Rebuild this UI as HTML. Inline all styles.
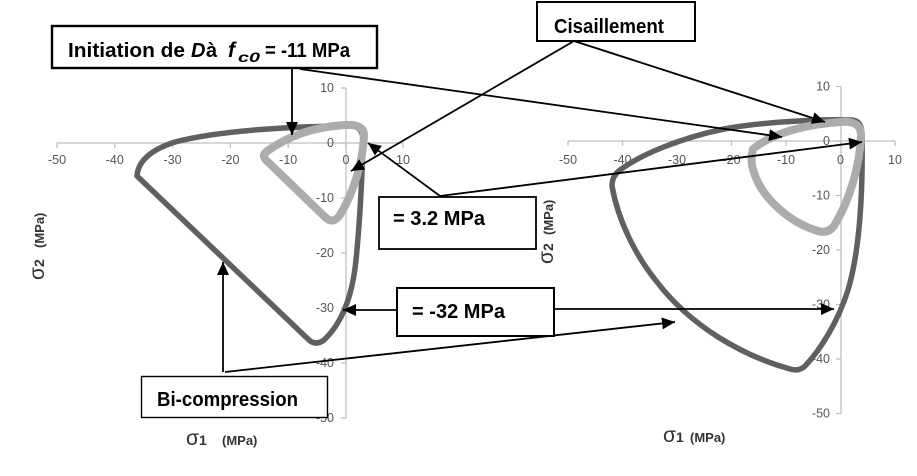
<!DOCTYPE html>
<html>
<head>
<meta charset="utf-8">
<style>
  html,body{margin:0;padding:0;background:#fff;}
  svg{display:block;}
  .tk{font-family:"Liberation Sans",sans-serif;font-size:12.5px;fill:#555;}
  .bx{font-family:"Liberation Sans",sans-serif;font-size:20px;font-weight:bold;fill:#000;}
  .ax{font-family:"Liberation Sans",sans-serif;font-weight:bold;fill:#333;}
</style>
</head>
<body>
<svg width="917" height="476" viewBox="0 0 917 476" xmlns="http://www.w3.org/2000/svg">
  <defs>
    <marker id="ah" markerUnits="userSpaceOnUse" markerWidth="14" markerHeight="12" refX="13" refY="6" orient="auto">
      <path d="M0,0 L13,6 L0,12 z" fill="#000"/>
    </marker>
  </defs>
  <rect width="917" height="476" fill="#fff"/>

  <!-- LEFT AXES -->
  <g stroke="#bfbfbf" stroke-width="1.3">
    <line x1="57" y1="143" x2="403" y2="143"/>
    <line x1="57" y1="143" x2="57" y2="148"/>
    <line x1="114.8" y1="143" x2="114.8" y2="148"/>
    <line x1="172.6" y1="143" x2="172.6" y2="148"/>
    <line x1="230.4" y1="143" x2="230.4" y2="148"/>
    <line x1="288.2" y1="143" x2="288.2" y2="148"/>
    <line x1="346" y1="143" x2="346" y2="148"/>
    <line x1="403" y1="143" x2="403" y2="148"/>
    <line x1="346" y1="88" x2="346" y2="418"/>
    <line x1="341" y1="88" x2="346" y2="88"/>
    <line x1="341" y1="143" x2="346" y2="143"/>
    <line x1="341" y1="198" x2="346" y2="198"/>
    <line x1="341" y1="253" x2="346" y2="253"/>
    <line x1="341" y1="308" x2="346" y2="308"/>
    <line x1="341" y1="363" x2="346" y2="363"/>
    <line x1="341" y1="418" x2="346" y2="418"/>
  </g>
  <g class="tk" text-anchor="middle">
    <text x="57" y="164">-50</text>
    <text x="114.8" y="164">-40</text>
    <text x="172.6" y="164">-30</text>
    <text x="230.4" y="164">-20</text>
    <text x="288.2" y="164">-10</text>
    <text x="346" y="164">0</text>
    <text x="403" y="164">10</text>
  </g>
  <g class="tk" text-anchor="end">
    <text x="334" y="92">10</text>
    <text x="334" y="147">0</text>
    <text x="334" y="202">-10</text>
    <text x="334" y="257">-20</text>
    <text x="334" y="312">-30</text>
    <text x="334" y="367">-40</text>
    <text x="334" y="422">-50</text>
  </g>

  <!-- RIGHT AXES -->
  <g stroke="#bfbfbf" stroke-width="1.3">
    <line x1="568" y1="141" x2="895" y2="141"/>
    <line x1="568" y1="141" x2="568" y2="146"/>
    <line x1="622.5" y1="141" x2="622.5" y2="146"/>
    <line x1="677" y1="141" x2="677" y2="146"/>
    <line x1="731.5" y1="141" x2="731.5" y2="146"/>
    <line x1="786" y1="141" x2="786" y2="146"/>
    <line x1="840.5" y1="141" x2="840.5" y2="146"/>
    <line x1="895" y1="141" x2="895" y2="146"/>
    <line x1="841" y1="86.5" x2="841" y2="413.5"/>
    <line x1="836" y1="86.5" x2="841" y2="86.5"/>
    <line x1="836" y1="141" x2="841" y2="141"/>
    <line x1="836" y1="195.5" x2="841" y2="195.5"/>
    <line x1="836" y1="250" x2="841" y2="250"/>
    <line x1="836" y1="304.5" x2="841" y2="304.5"/>
    <line x1="836" y1="359" x2="841" y2="359"/>
    <line x1="836" y1="413.5" x2="841" y2="413.5"/>
  </g>
  <g class="tk" text-anchor="middle">
    <text x="568" y="164">-50</text>
    <text x="622.5" y="164">-40</text>
    <text x="677" y="164">-30</text>
    <text x="731.5" y="164">-20</text>
    <text x="786" y="164">-10</text>
    <text x="840.5" y="164">0</text>
    <text x="895" y="164">10</text>
  </g>
  <g class="tk" text-anchor="end">
    <text x="830" y="90.5">10</text>
    <text x="830" y="145">0</text>
    <text x="830" y="199.5">-10</text>
    <text x="830" y="254">-20</text>
    <text x="830" y="308.5">-30</text>
    <text x="830" y="363">-40</text>
    <text x="830" y="417.5">-50</text>
  </g>

  <!-- LEFT CURVES -->
  <path d="M 137,176 L 309,340 Q 316,346 324,340 C 340,325 352,300 356,260 C 360,220 362,180 363,140 Q 363,126 350,126 C 300,126 220,130 175,142 C 150,150 138,162 137,176 Z"
        fill="none" stroke="#606060" stroke-width="5.5" stroke-linejoin="round"/>
  <path d="M 266,152 C 285,138 310,127 345,125 Q 364,124 364,135 C 363,160 355,190 340,215 Q 333,225 325,217 L 268,162 Q 261,156 266,152 Z"
        fill="none" stroke="#acacac" stroke-width="8" stroke-linejoin="round"/>

  <!-- RIGHT CURVES -->
  <path d="M 612,186 Q 612,176 620,170 C 640,155 680,138 724,129 C 760,122 820,119 852,120 Q 862,121 862,135 C 863,190 860,250 848,290 C 838,322 820,350 806,365 Q 800,372 790,369 C 740,355 690,325 657,282 C 635,255 618,220 612,186 Z"
        fill="none" stroke="#606060" stroke-width="5.5" stroke-linejoin="round"/>
  <path d="M 753,149 C 770,135 800,125 840,122 Q 861,120 861,135 C 860,165 850,200 834,226 Q 827,235 815,230 C 790,222 765,200 756,178 C 752,168 750,160 753,149 Z"
        fill="none" stroke="#acacac" stroke-width="8" stroke-linejoin="round"/>

  <!-- CONNECTORS -->
  <g stroke="#000" stroke-width="1.8" fill="none">
    <line x1="292" y1="69" x2="292" y2="135" marker-end="url(#ah)"/>
    <line x1="300" y1="69" x2="782" y2="137" marker-end="url(#ah)"/>
    <line x1="574" y1="41" x2="351" y2="171" marker-end="url(#ah)"/>
    <line x1="574" y1="41" x2="825" y2="122" marker-end="url(#ah)"/>
    <line x1="440" y1="196" x2="368" y2="143" marker-end="url(#ah)"/>
    <line x1="440" y1="196" x2="862" y2="142" marker-end="url(#ah)"/>
    <line x1="396" y1="310" x2="343" y2="310" marker-end="url(#ah)"/>
    <line x1="555" y1="309" x2="834" y2="309" marker-end="url(#ah)"/>
    <line x1="223" y1="372" x2="223" y2="262" marker-end="url(#ah)"/>
    <line x1="225" y1="372" x2="675" y2="322" marker-end="url(#ah)"/>
  </g>

  <!-- BOXES -->
  <rect x="52" y="26" width="325" height="42" fill="#fff" stroke="#000" stroke-width="2.4"/>
  <rect x="537" y="2" width="158" height="39" fill="#fff" stroke="#000" stroke-width="2"/>
  <rect x="379" y="197" width="157" height="52" fill="#fff" stroke="#000" stroke-width="1.8"/>
  <rect x="397" y="288" width="157" height="48" fill="#fff" stroke="#000" stroke-width="2"/>
  <rect x="141.5" y="376.5" width="186" height="41" fill="#fff" stroke="#000" stroke-width="1.4"/>

  <!-- BOX TEXT -->
  <text class="bx" x="68" y="57" textLength="117" lengthAdjust="spacingAndGlyphs">Initiation de</text>
  <text class="bx" x="191" y="57" font-style="italic">D</text>
  <text class="bx" x="206" y="57">à</text>
  <text class="bx" x="228" y="57" font-style="italic" style="font-size:21px">f</text>
  <text class="bx" x="238" y="62" font-style="italic" style="font-size:14px" textLength="22" lengthAdjust="spacingAndGlyphs">c0</text>
  <text class="bx" x="265" y="57" textLength="85" lengthAdjust="spacingAndGlyphs">= -11 MPa</text>

  <text class="bx" x="554" y="33" textLength="110" lengthAdjust="spacingAndGlyphs">Cisaillement</text>
  <text class="bx" x="393" y="225" textLength="92" lengthAdjust="spacingAndGlyphs">= 3.2 MPa</text>
  <text class="bx" x="412" y="318" textLength="93" lengthAdjust="spacingAndGlyphs">= -32 MPa</text>
  <text class="bx" x="157" y="406" textLength="141" lengthAdjust="spacingAndGlyphs">Bi-compression</text>

  <!-- AXIS TITLES -->
  <text class="ax" x="186" y="445"><tspan style="font-size:21px" font-weight="normal">σ</tspan><tspan style="font-size:14px">1</tspan><tspan x="222" style="font-size:13px">(MPa)</tspan></text>
  <text class="ax" x="663" y="442"><tspan style="font-size:21px" font-weight="normal">σ</tspan><tspan style="font-size:14px">1</tspan><tspan x="690" style="font-size:13px">(MPa)</tspan></text>
  <text class="ax" transform="translate(44,280) rotate(-90)"><tspan style="font-size:21px" font-weight="normal">σ</tspan><tspan style="font-size:14px">2</tspan><tspan x="32" style="font-size:13px">(MPa)</tspan></text>
  <text class="ax" transform="translate(553,264) rotate(-90)"><tspan style="font-size:21px" font-weight="normal">σ</tspan><tspan style="font-size:14px">2</tspan><tspan x="29" style="font-size:13px">(MPa)</tspan></text>
</svg>
</body>
</html>
